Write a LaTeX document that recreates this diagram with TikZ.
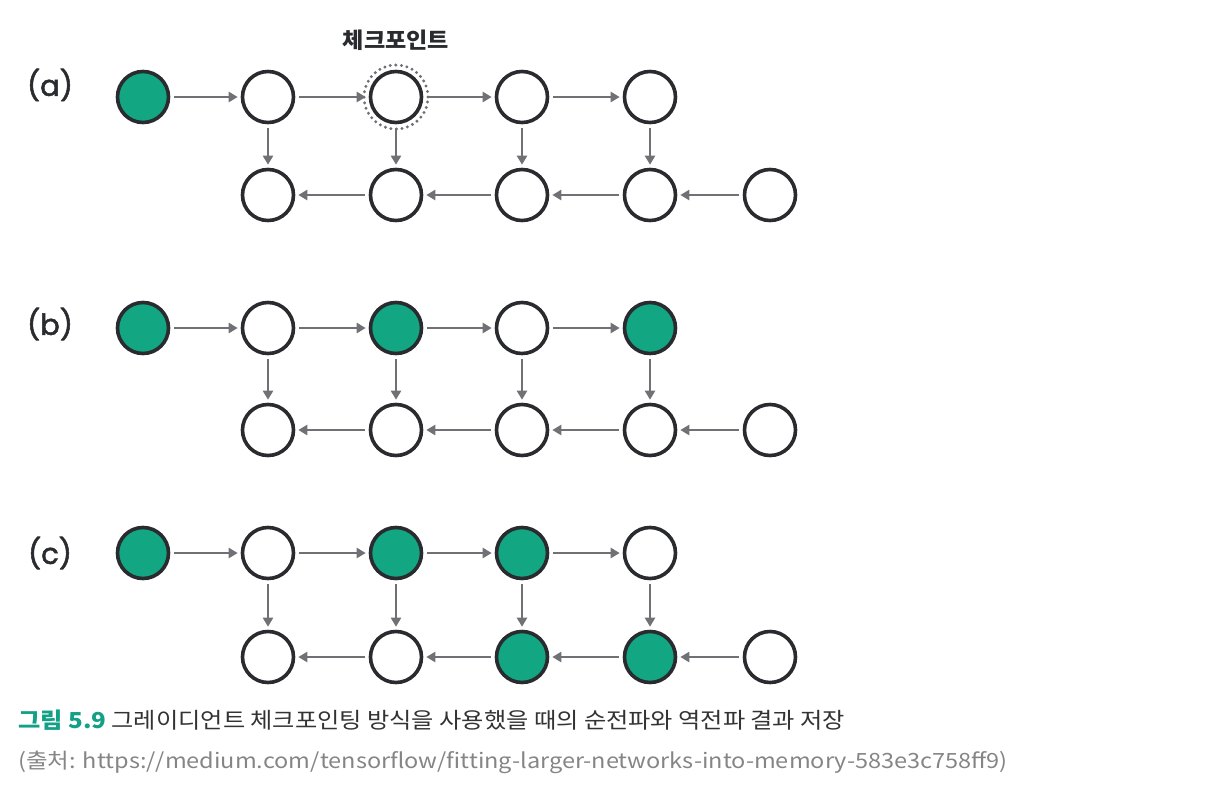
\documentclass[tikz,border=0pt]{standalone}
\usepackage{fontspec}
\setmainfont{Noto Sans CJK KR}
\newfontfamily\krfont{Noto Sans CJK KR}
\newfontfamily\labfont{Poppins}[FakeBold=1.8]
\usetikzlibrary{arrows.meta}
\definecolor{nodegreen}{HTML}{12A683}
\definecolor{ring}{HTML}{2A2B2F}
\definecolor{arr}{HTML}{707075}
\definecolor{capgreen}{HTML}{12A086}
\definecolor{srcgray}{HTML}{858585}
\definecolor{capblack}{HTML}{333333}
\tikzset{
  cnode/.style={circle, draw=ring, line width=3.6pt, minimum size=51pt, inner sep=0pt, fill=white},
  gnode/.style={cnode, fill=nodegreen},
  link/.style={draw=arr, line width=2.6pt, -{Triangle[length=9pt,width=10pt]}, shorten <=4pt, shorten >=3pt},
  lab/.style={font=\labfont\fontsize{29}{29}\selectfont, text=ring, anchor=center},
}
\begin{document}
\begin{tikzpicture}[x=1pt,y=-1pt]
\useasboundingbox (0,0) rectangle (1212,795);
% (a)
\node[lab] (la) at (50,85) {(a)};
\node[gnode] (a1) at (143,97) {};
\node[cnode] (a2) at (268,97) {};
\node[cnode] (a3) at (396,97) {};
\node[cnode] (a4) at (522,97) {};
\node[cnode] (a5) at (650,97) {};
\node[cnode] (a6) at (268,195) {};
\node[cnode] (a7) at (396,195) {};
\node[cnode] (a8) at (522,195) {};
\node[cnode] (a9) at (650,195) {};
\node[cnode] (a10) at (770,195) {};
\node[circle, draw=arr, line width=3.3pt, dash pattern=on 0pt off 5.6pt, line cap=round, minimum size=64pt, inner sep=0pt] (ck) at (396,97) {};
\node[font=\krfont\bfseries\fontsize{22}{22}\selectfont, text=ring, xscale=1.05] (ckl) at (396,40) {체크포인트};
\foreach \s/\t in {a1/a2,a2/a3,a3/a4,a4/a5,a2/a6,a3/a7,a4/a8,a5/a9,a10/a9,a9/a8,a8/a7,a7/a6} \draw[link] (\s) -- (\t);
% (b)
\node[lab] (lb) at (50,324) {(b)};
\node[gnode] (b1) at (143,328) {};
\node[cnode] (b2) at (268,328) {};
\node[gnode] (b3) at (396,328) {};
\node[cnode] (b4) at (522,328) {};
\node[gnode] (b5) at (650,328) {};
\node[cnode] (b6) at (268,430) {};
\node[cnode] (b7) at (396,430) {};
\node[cnode] (b8) at (522,430) {};
\node[cnode] (b9) at (650,430) {};
\node[cnode] (b10) at (770,430) {};
\foreach \s/\t in {b1/b2,b2/b3,b3/b4,b4/b5,b2/b6,b3/b7,b4/b8,b5/b9,b10/b9,b9/b8,b8/b7,b7/b6} \draw[link] (\s) -- (\t);
% (c)
\node[lab] (lc) at (50,553) {(c)};
\node[gnode] (c1) at (143,553) {};
\node[cnode] (c2) at (268,553) {};
\node[gnode] (c3) at (396,553) {};
\node[gnode] (c4) at (522,553) {};
\node[cnode] (c5) at (650,553) {};
\node[cnode] (c6) at (268,657) {};
\node[cnode] (c7) at (396,657) {};
\node[gnode] (c8) at (522,657) {};
\node[gnode] (c9) at (650,657) {};
\node[cnode] (c10) at (770,657) {};
\foreach \s/\t in {c1/c2,c2/c3,c3/c4,c4/c5,c2/c6,c3/c7,c4/c8,c5/c9,c10/c9,c9/c8,c8/c7,c7/c6} \draw[link] (\s) -- (\t);
% caption
\node[anchor=west, inner sep=0pt, font=\krfont\fontsize{22}{22}\selectfont, text=capblack, xscale=1.1] (cap) at (18,720) {\textcolor{capgreen}{\bfseries 그림 5.9}\ 그레이디언트 체크포인팅 방식을 사용했을 때의 순전파와 역전파 결과 저장};
\node[anchor=west, inner sep=0pt, font=\krfont\fontsize{21}{21}\selectfont, text=srcgray, xscale=1.12] (src) at (18,762) {(출처: https://medium.com/tensorflow/fitting-larger-networks-into-memory-583e3c758ff9)};
\end{tikzpicture}
\end{document}
